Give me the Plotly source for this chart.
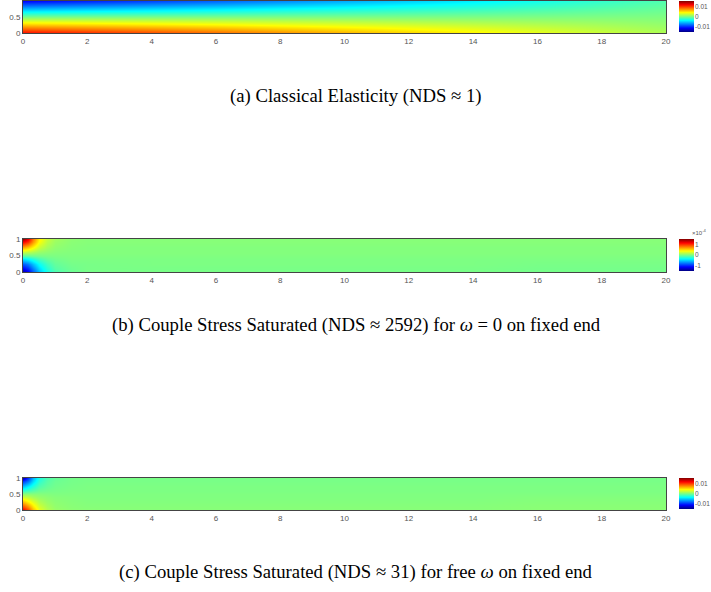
import plotly.graph_objects as go

# ---------------- data ----------------
# Panel (a): Classical elasticity, x grid and y grid
xa = [0, 2, 4, 6, 8, 10, 12, 14, 16, 18, 20]
ya = [0, 0.25, 0.5, 0.75, 1]
za = [
    [0.0115, 0.0105, 0.0095, 0.0085, 0.0074, 0.0063, 0.0053, 0.0043, 0.0033, 0.0023, 0.0014],
    [0.0058, 0.0053, 0.0048, 0.0043, 0.0037, 0.0032, 0.0027, 0.0022, 0.0017, 0.0012, 0.0007],
    [0.0000, 0.0000, 0.0000, 0.0000, 0.0000, 0.0000, 0.0000, 0.0000, 0.0000, 0.0000, 0.0000],
    [-0.0058, -0.0053, -0.0048, -0.0043, -0.0037, -0.0032, -0.0027, -0.0022, -0.0017, -0.0012, -0.0007],
    [-0.0115, -0.0105, -0.0095, -0.0085, -0.0074, -0.0063, -0.0053, -0.0043, -0.0033, -0.0023, -0.0014],
]

# Panels (b) and (c): refined near the fixed end
xb = [0, 0.15, 0.3, 0.5, 0.75, 1.0, 1.5, 2, 4, 6, 8, 10, 12, 14, 16, 18, 20]
yb = [0, 0.1, 0.25, 0.4, 0.5, 0.6, 0.75, 0.9, 1]
zb = [  # units of 1e-4
    [-1.35, -1.15, -0.85, -0.55, -0.30, -0.15, -0.06, -0.03, -0.02, -0.02, -0.02, -0.02, -0.02, -0.02, -0.03, -0.03, -0.03],
    [-1.15, -1.00, -0.75, -0.48, -0.26, -0.12, -0.05, -0.02, -0.02, -0.02, -0.02, -0.02, -0.02, -0.02, -0.03, -0.03, -0.03],
    [-0.85, -0.75, -0.55, -0.35, -0.18, -0.08, -0.03, -0.02, -0.01, -0.01, -0.01, -0.01, -0.01, -0.01, -0.02, -0.02, -0.02],
    [-0.45, -0.38, -0.28, -0.17, -0.08, -0.04, -0.01, -0.01, -0.01, -0.01, -0.01, -0.01, -0.01, -0.01, -0.01, -0.01, -0.01],
    [-0.12, -0.10, -0.07, -0.04, -0.02, -0.01, 0.00, 0.00, 0.00, 0.00, 0.00, 0.00, 0.00, 0.00, 0.00, 0.00, 0.00],
    [0.20, 0.17, 0.12, 0.07, 0.04, 0.02, 0.01, 0.01, 0.01, 0.01, 0.01, 0.01, 0.01, 0.01, 0.01, 0.01, 0.01],
    [0.65, 0.55, 0.40, 0.22, 0.11, 0.05, 0.02, 0.01, 0.01, 0.01, 0.01, 0.01, 0.01, 0.01, 0.01, 0.01, 0.01],
    [1.10, 0.95, 0.65, 0.35, 0.17, 0.08, 0.03, 0.02, 0.02, 0.02, 0.02, 0.02, 0.02, 0.02, 0.02, 0.02, 0.02],
    [1.40, 1.15, 0.75, 0.40, 0.20, 0.10, 0.04, 0.02, 0.02, 0.02, 0.02, 0.02, 0.02, 0.02, 0.02, 0.02, 0.02],
]
zc = [
    [0.0120, 0.0095, 0.0060, 0.0032, 0.0016, 0.0008, 0.0004, 0.0003, 0.0002, 0.0002, 0.0002, 0.0002, 0.0002, 0.0002, 0.0003, 0.0003, 0.0003],
    [0.0095, 0.0075, 0.0048, 0.0026, 0.0013, 0.0006, 0.0003, 0.0002, 0.0002, 0.0002, 0.0002, 0.0002, 0.0002, 0.0002, 0.0003, 0.0003, 0.0003],
    [0.0060, 0.0045, 0.0030, 0.0016, 0.0008, 0.0004, 0.0002, 0.0001, 0.0001, 0.0001, 0.0001, 0.0001, 0.0001, 0.0001, 0.0002, 0.0002, 0.0002],
    [0.0025, 0.0019, 0.0012, 0.0007, 0.0004, 0.0002, 0.0001, 0.0000, 0.0000, 0.0000, 0.0000, 0.0000, 0.0000, 0.0000, 0.0001, 0.0001, 0.0001],
    [0.0005, 0.0004, 0.0003, 0.0002, 0.0001, 0.0000, 0.0000, 0.0000, 0.0000, 0.0000, 0.0000, 0.0000, 0.0000, 0.0000, 0.0000, 0.0000, 0.0000],
    [-0.0020, -0.0015, -0.0010, -0.0005, -0.0003, -0.0002, -0.0001, -0.0001, -0.0001, -0.0001, -0.0001, -0.0001, -0.0001, -0.0001, -0.0001, -0.0001, -0.0001],
    [-0.0060, -0.0045, -0.0030, -0.0015, -0.0008, -0.0004, -0.0002, -0.0001, -0.0001, -0.0001, -0.0001, -0.0001, -0.0001, -0.0001, -0.0001, -0.0001, -0.0001],
    [-0.0100, -0.0080, -0.0050, -0.0025, -0.0012, -0.0006, -0.0003, -0.0002, -0.0002, -0.0002, -0.0002, -0.0002, -0.0002, -0.0002, -0.0002, -0.0002, -0.0002],
    [-0.0135, -0.0100, -0.0060, -0.0030, -0.0015, -0.0008, -0.0003, -0.0002, -0.0002, -0.0002, -0.0002, -0.0002, -0.0002, -0.0002, -0.0002, -0.0002, -0.0002],
]

x_ticks = [0, 2, 4, 6, 8, 10, 12, 14, 16, 18, 20]
y_ticks = [0, 0.5, 1]
y_ticklabels = ["0", "0.5", "1"]
cb_ticks_a = [-0.01, 0, 0.01]
cb_labels_a = ["-0.01", "0", "0.01"]
cb_ticks_b = [-1, 0, 1]
cb_labels_b = ["-1", "0", "1"]
captions = [
    "(a) Classical Elasticity (NDS \u2248 1)",
    "(b) Couple Stress Saturated (NDS \u2248 2592) for <i>\u03c9</i> = 0 on fixed end",
    "(c) Couple Stress Saturated (NDS \u2248 31) for free <i>\u03c9</i> on fixed end",
]

# ---------------- styling ----------------
W, H = 711, 592
jet = [[0.0, "rgb(0,0,128)"], [0.125, "rgb(0,0,255)"], [0.375, "rgb(0,255,255)"],
       [0.5, "rgb(128,255,128)"], [0.625, "rgb(255,255,0)"], [0.875, "rgb(255,0,0)"],
       [1.0, "rgb(128,0,0)"]]

def py(p):
    return 1 - p / H

def px(p):
    return p / W

panels = [
    dict(x=xa, y=ya, z=za, zr=0.0155, ticks=cb_ticks_a, labels=cb_labels_a, top=1, bot=33),
    dict(x=xb, y=yb, z=zb, zr=1.48, ticks=cb_ticks_b, labels=cb_labels_b, top=239, bot=272),
    dict(x=xb, y=yb, z=zc, zr=0.0155, ticks=cb_ticks_a, labels=cb_labels_a, top=478, bot=510),
]

fig = go.Figure()
tickfont = dict(family="Liberation Sans, Arial, sans-serif", size=8, color="#555555")
cbfont = dict(family="Liberation Sans, Arial, sans-serif", size=6.5, color="#555555")
ann = []
CB_X0, CB_W = 679, 15
for i, p in enumerate(panels):
    n = "" if i == 0 else str(i + 1)
    cb_top, cb_bot = p["top"], p["bot"] - 1
    cb_len = cb_bot - cb_top
    fig.add_trace(go.Heatmap(
        x=p["x"], y=p["y"], z=p["z"], zmin=-p["zr"], zmax=p["zr"], zsmooth="best",
        colorscale=jet, xaxis="x" + n, yaxis="y" + n, hoverinfo="skip",
        colorbar=dict(
            x=px(CB_X0), xanchor="left", thickness=CB_W, thicknessmode="pixels",
            len=cb_len, lenmode="pixels",
            y=py(cb_top), yanchor="top",
            tickvals=p["ticks"], showticklabels=False, ticks="", outlinewidth=0,
            xpad=0, ypad=0,
        ),
    ))
    # colorbar tick labels as text (avoid margin push)
    for v, lab in zip(p["ticks"], p["labels"]):
        ypix = cb_top + (p["zr"] - v) / (2 * p["zr"]) * cb_len
        ann.append(dict(text=lab, x=px(CB_X0 + CB_W), y=py(ypix), xref="paper", yref="paper",
                        xanchor="left", yanchor="middle", showarrow=False, font=cbfont,
                        borderpad=0))
    fig.layout["xaxis" + n] = dict(
        domain=[px(23), px(666)], range=[0, 20], anchor="y" + n,
        tickvals=x_ticks, ticks="", showgrid=False, zeroline=False, automargin=False,
        showline=True, mirror=True, linecolor="#444444", linewidth=1,
        tickfont=tickfont,
    )
    fig.layout["yaxis" + n] = dict(
        domain=[py(p["bot"]), py(p["top"])], range=[0, 1], anchor="x" + n,
        tickvals=y_ticks, ticktext=y_ticklabels, ticks="", showgrid=False, automargin=False,
        zeroline=False, showline=True, mirror=True, linecolor="#444444",
        linewidth=1, tickfont=tickfont,
    )

cap_y = [96, 325, 572]
for c, yy in zip(captions, cap_y):
    ann.append(dict(text=c, x=px(356), y=py(yy), xref="paper", yref="paper",
                    xanchor="center", yanchor="middle", showarrow=False,
                    font=dict(family="Liberation Serif, Times New Roman, serif", size=18.7, color="#000000")))
ann.append(dict(text="\u00d710<sup>-4</sup>", x=px(690), y=py(232), xref="paper", yref="paper",
                xanchor="left", yanchor="middle", showarrow=False,
                font=dict(family="Liberation Sans, Arial, sans-serif", size=6, color="#555555")))

fig.update_layout(
    width=W, height=H, margin=dict(l=0, r=0, t=0, b=0),
    paper_bgcolor="white", plot_bgcolor="white",
    annotations=ann, showlegend=False,
)

fig.write_html("out.html")
